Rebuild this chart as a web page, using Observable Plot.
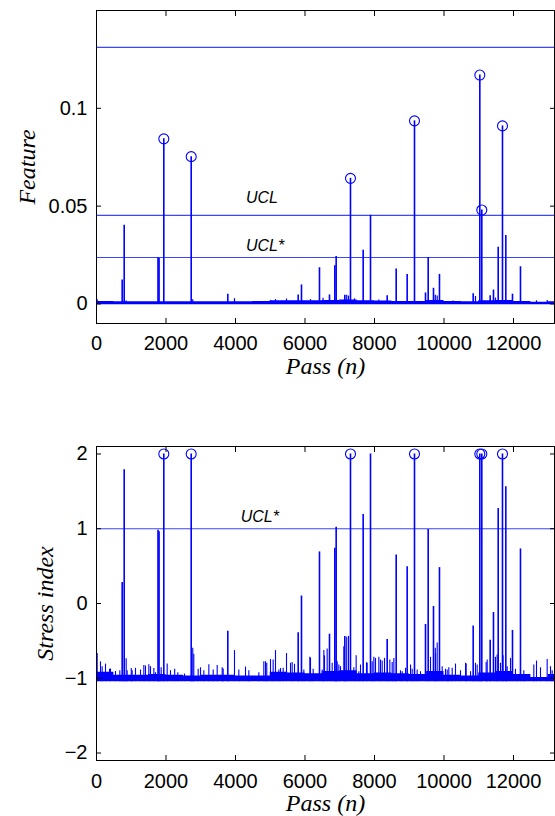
<!DOCTYPE html>
<html><head><meta charset="utf-8">
<script src="https://cdn.jsdelivr.net/npm/d3@7"></script>
<script src="https://cdn.jsdelivr.net/npm/@observablehq/plot@0.6"></script>
<style>
body{margin:0;background:#fff;}
#chart{width:555px;}
svg{display:block;}
</style></head><body><div id="chart"></div>
<script>
// ---- data ----
const spikePass    = [739, 797, 1770, 1800, 1937, 2725, 3779, 5804, 5899, 6417, 6705, 6858, 6897, 7146, 7309, 7674, 7885, 8365, 8624, 8940, 9151, 9468, 9545, 9698, 9870, 10840, 11031, 11088, 11329, 11424, 11560, 11683, 11779, 11971, 12201];
const spikeFeature = [0.0122, 0.0402, 0.0236, 0.0232, 0.0844, 0.0753, 0.0050, 0.0046, 0.0097, 0.0185, 0.0046, 0.0195, 0.0243, 0.0044, 0.0642, 0.0275, 0.0453, 0.0042, 0.0178, 0.0151, 0.0936, 0.0056, 0.0237, 0.0080, 0.0151, 0.0052, 0.1170, 0.0480, 0.0042, 0.0071, 0.0290, 0.0910, 0.0350, 0.0050, 0.0190];
const spikeStress  = [0.28, 1.79, 0.98, 0.96, 2, 2, -0.37, -0.39, 0.10, 0.69, -0.41, 0.74, 1.02, -0.44, 2, 1.19, 2, -0.48, 0.65, 0.49, 2, -0.28, 0.99, -0.04, 0.48, -0.30, 2, 2, -0.49, -0.12, 1.27, 2, 1.56, -0.36, 0.73];
const circledPass  = [1937, 2725, 7309, 9151, 11031, 11088, 11683];

const minorTopPass  = [20, 854, 2770, 3971, 5007, 5151, 5468, 6158, 6520, 7200, 7252, 7424, 8125, 9750, 9804, 10263, 10906, 11482, 12662, 12969];
const minorTopVal   = [0.0022, 0.0015, 0.0022, 0.0027, 0.0018, 0.0022, 0.0025, 0.0022, 0.0029, 0.0044, 0.0040, 0.0026, 0.0020, 0.0045, 0.0040, 0.0015, 0.0038, 0.0030, 0.0016, 0.0018];

const minorLowPass = [20, 115, 163, 259, 374, 403, 547, 671, 854, 882, 1000, 1026, 1122, 1266, 1362, 1410, 1506, 1554, 1650, 1698, 1861, 2034, 2129, 2250, 2340, 2532, 2770, 2800, 2926, 2993, 3089, 3233, 3358, 3473, 3617, 3646, 3971, 4096, 4288, 4384, 4672, 4815, 4864, 4900, 5007, 5084, 5151, 5247, 5295, 5372, 5468, 5583, 5631, 5698, 5967, 6139, 6158, 6235, 6494, 6542, 6561, 6638, 6782, 6926, 6974, 7022, 7117, 7200, 7252, 7405, 7472, 7549, 7597, 7770, 7789, 7933, 7981, 8029, 8125, 8173, 8221, 8288, 8442, 8509, 8557, 8748, 8797, 8893, 9037, 9084, 9228, 9324, 9612, 9750, 9756, 9804, 9948, 10043, 10092, 10139, 10236, 10331, 10475, 10620, 10638, 10764, 10906, 10955, 11213, 11243, 11482, 11530, 11626, 11700, 11818, 11914, 12057, 12106, 12297, 12346, 12585, 12662, 12777, 12969, 13065, 13113];
const minorLowVal  = [-0.67, -0.78, -0.845, -0.81, -0.88, -0.876, -0.91, -0.90, -0.74, -0.898, -0.87, -0.90, -0.867, -0.89, -0.83, -0.836, -0.82, -0.845, -0.87, -0.925, -0.858, -0.81, -0.898, -0.88, -0.925, -0.943, -0.60, -0.68, -0.88, -0.86, -0.898, -0.82, -0.89, -0.83, -0.86, -0.876, -0.63, -0.89, -0.85, -0.898, -0.925, -0.78, -0.778, -0.80, -0.75, -0.756, -0.63, -0.89, -0.87, -0.867, -0.67, -0.80, -0.79, -0.814, -0.89, -0.72, -0.73, -0.88, -0.89, -0.63, -0.70, -0.61, -0.80, -0.78, -0.823, -0.845, -0.58, -0.45, -0.44, -0.86, -0.70, -0.912, -0.823, -0.792, -0.80, -0.778, -0.72, -0.734, -0.72, -0.756, -0.77, -0.734, -0.756, -0.79, -0.734, -0.90, -0.912, -0.867, -0.823, -0.88, -0.89, -0.912, -0.72, -0.60, -0.667, -0.53, -0.845, -0.88, -0.89, -0.86, -0.867, -0.81, -0.90, -0.80, -0.81, -0.912, -0.80, -0.823, -0.79, -0.756, -0.72, -0.69, -0.80, -0.70, -0.845, -0.734, -0.88, -0.956, -0.90, -0.97, -0.823, -0.77, -0.86, -0.75, -0.845, -0.90];

const bandPass   = [0, 500, 1000, 1500, 2000, 2500, 3000, 3500, 4000, 4500, 5000, 5500, 6000, 6500, 7000, 7500, 8000, 8500, 9000, 9500, 10000, 10500, 11000, 11500, 12000, 12500, 13000, 13180];
const bandTop    = [0.0012, 0.0011, 0.0011, 0.0011, 0.0011, 0.0011, 0.0011, 0.0011, 0.0011, 0.0012, 0.0016, 0.0016, 0.0016, 0.0018, 0.0020, 0.0016, 0.0015, 0.0013, 0.0012, 0.0018, 0.0012, 0.0011, 0.0016, 0.0018, 0.0012, 0.0008, 0.0011, 0.0011];
const bandLow    = [-0.92, -0.96, -0.96, -0.95, -0.96, -0.97, -0.96, -0.96, -0.97, -0.97, -0.92, -0.93, -0.94, -0.91, -0.90, -0.94, -0.93, -0.94, -0.95, -0.91, -0.96, -0.97, -0.93, -0.91, -0.95, -0.99, -0.95, -0.95];

const topLimits   = [0.1312, 0.0453, 0.02375];   // upper line, UCL, UCL*
const ucl = 0.0453, uclStarTop = 0.02375, uclStarLow = 1.0;
const labelPassTop = 4300, labelPassLow = 4150;

const xTicks   = [0, 2000, 4000, 6000, 8000, 10000, 12000];
const yTicksTop = [0, 0.05, 0.1];
const yTicksLow = [-2, -1, 0, 1, 2];
const xDomain = [0, 13180];

// ---- tables ----
const spikes = spikePass.map((p, i) => ({pass: p, feature: spikeFeature[i], stress: spikeStress[i]}));
const circles = spikes.filter(d => circledPass.includes(d.pass));
const minorTop = minorTopPass.map((p, i) => ({pass: p, v: minorTopVal[i]}));
const minorLow = minorLowPass.map((p, i) => ({pass: p, v: minorLowVal[i]}));
const band = bandPass.map((p, i) => ({pass: p, top: bandTop[i], low: bandLow[i]}));

const BLUE = "#0000ff";
const LIMIT = "#3a46ff";
const fmt = d => d < 0 ? "\u2212" + Math.abs(d) : String(d);
const sans = "'Liberation Sans', Arial, Helvetica, sans-serif";
const serif = "'Liberation Serif', 'Times New Roman', serif";

function axes(yTicks, padX, padY) {
  return [
    Plot.axisX({ticks: xTicks, tickSize: 0, tickPadding: padX, tickFormat: fmt, label: null, fontSize: 20}),
    Plot.axisX({ticks: xTicks, anchor: "bottom", tickSize: -5, text: null, label: null}),
    Plot.axisX({ticks: xTicks, anchor: "top", tickSize: -5, text: null, label: null}),
    Plot.axisY({ticks: yTicks, tickSize: 0, tickPadding: padY, tickFormat: fmt, label: null, fontSize: 20}),
    Plot.axisY({ticks: yTicks, anchor: "left", tickSize: -5, text: null, label: null}),
    Plot.axisY({ticks: yTicks, anchor: "right", tickSize: -5, text: null, label: null}),
    Plot.frame({stroke: "black", strokeWidth: 1})
  ];
}
function limitLabel(txt, pass, y, dy) {
  return Plot.text([txt], {x: () => pass, y: () => y, text: d => d, dy, textAnchor: "start", lineAnchor: "middle", fontStyle: "italic", fontSize: 16, fontFamily: sans, fill: "black"});
}
function axisTitles(xt, yt, ydx) {
  return [
    Plot.text([xt], {frameAnchor: "bottom", dy: 43, lineAnchor: "middle", textAnchor: "middle", fontFamily: serif, fontStyle: "italic", fontSize: 24, fill: "black"}),
    Plot.text([yt], {frameAnchor: "left", dx: ydx, rotate: -90, lineAnchor: "middle", textAnchor: "middle", fontFamily: serif, fontStyle: "italic", fontSize: 24, fill: "black"})
  ];
}

const topPlot = Plot.plot({
  width: 555, height: 380,
  marginLeft: 96, marginRight: 1, marginTop: 10, marginBottom: 57,
  x: {domain: xDomain},
  y: {domain: [-0.01, 0.15]},
  style: {fontFamily: sans, fontSize: "20px", color: "black", background: "white"},
  marks: [
    Plot.ruleY(topLimits, {y: d => d, stroke: LIMIT, strokeWidth: 1.2}),
    Plot.areaY(band, {x: "pass", y1: -0.0004, y2: "top", curve: "step-after", fill: BLUE}),
    Plot.ruleX(minorTop, {x: "pass", y1: 0, y2: "v", stroke: BLUE, strokeWidth: 1.2}),
    Plot.ruleX(spikes, {x: "pass", y1: 0, y2: "feature", stroke: BLUE, strokeWidth: 1.6}),
    Plot.dot(circles, {x: "pass", y: "feature", r: 5, stroke: BLUE, fill: "none", strokeWidth: 1.1}),
    limitLabel("UCL", labelPassTop, ucl, -17),
    limitLabel("UCL*", labelPassTop, uclStarTop, -12),
    ...axes(yTicksTop, 12, 9),
    ...axisTitles("Pass (n)", "Feature", -69)
  ]
});

const lowPlot = Plot.plot({
  width: 555, height: 436,
  marginLeft: 96, marginRight: 1, marginTop: 66, marginBottom: 56,
  x: {domain: xDomain},
  y: {domain: [-2.1, 2.1]},
  style: {fontFamily: sans, fontSize: "20px", color: "black", background: "white"},
  marks: [
    Plot.ruleY([uclStarLow], {y: d => d, stroke: LIMIT, strokeWidth: 1.2}),
    Plot.areaY(band, {x: "pass", y1: -1.045, y2: "low", curve: "step-after", fill: BLUE}),
    Plot.ruleX(minorLow, {x: "pass", y1: -1.045, y2: "v", stroke: BLUE, strokeWidth: 1.1}),
    Plot.ruleX(spikes, {x: "pass", y1: -1.045, y2: "stress", stroke: BLUE, strokeWidth: 1.6}),
    Plot.dot(circles, {x: "pass", y: "stress", r: 5, stroke: BLUE, fill: "none", strokeWidth: 1.1}),
    limitLabel("UCL*", labelPassLow, uclStarLow, -12),
    ...axes(yTicksLow, 13, 9),
    ...axisTitles("Pass (n)", "Stress index", -51)
  ]
});

document.getElementById("chart").append(topPlot, lowPlot);
</script>
</body></html>
